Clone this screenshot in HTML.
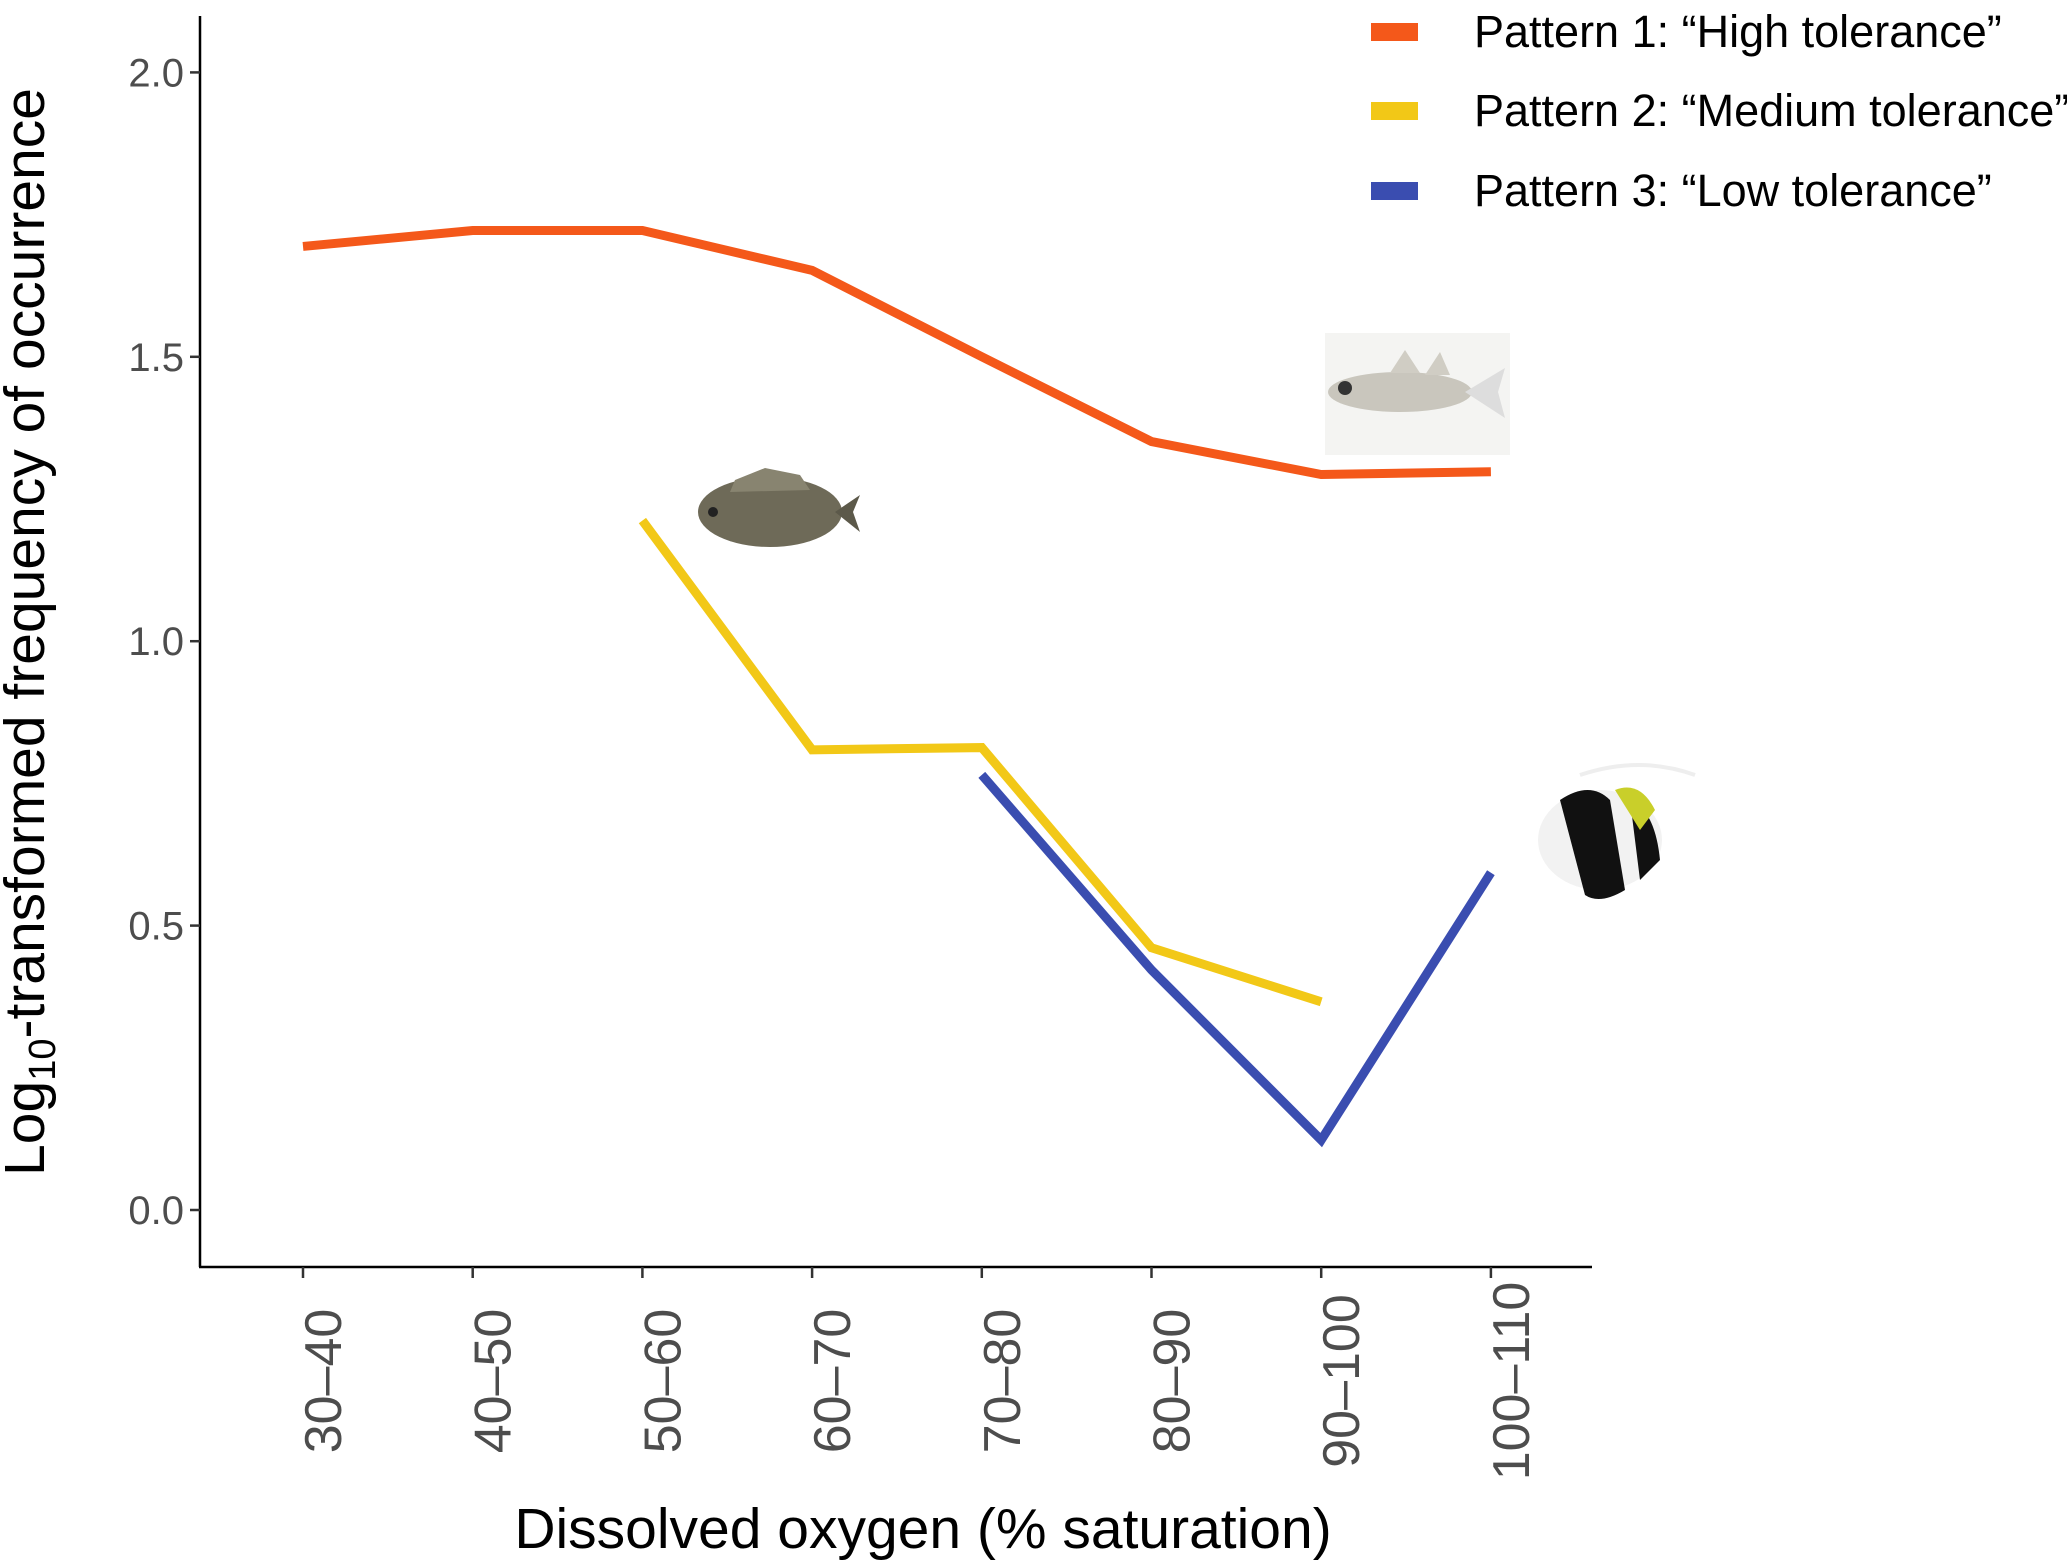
<!DOCTYPE html>
<html><head><meta charset="utf-8"><style>
html,body{margin:0;padding:0;background:#fff;}
svg{display:block;font-family:"Liberation Sans",Arial,sans-serif;}
</style></head><body>
<svg id="chart" width="2067" height="1561" viewBox="0 0 2067 1561">
<g id="axes"></g>
<g id="series"></g>
<g id="fish">
  <g>
    <rect x="1325" y="333" width="185" height="122" fill="#f4f4f2"/>
    <ellipse cx="1400" cy="392" rx="72" ry="20" fill="#c9c6bd"/>
    <polygon points="1465,392 1505,368 1498,392 1505,418" fill="#ddd"/>
    <polygon points="1390,373 1405,350 1420,373" fill="#d0cdc4"/>
    <polygon points="1425,375 1440,352 1450,375" fill="#d0cdc4"/>
    <circle cx="1345" cy="388" r="7" fill="#333"/>
  </g>
  <g>
    <ellipse cx="770" cy="512" rx="72" ry="35" fill="#6e6a58"/>
    <polygon points="835,512 860,495 853,512 860,532" fill="#5c594a"/>
    <polygon points="735,480 765,468 800,475 810,490 730,492" fill="#888470"/>
    <circle cx="713" cy="512" r="5" fill="#222"/>
  </g>
  <g>
    <ellipse cx="1600" cy="840" rx="62" ry="50" fill="#f2f2f2"/>
    <path d="M1560 800 Q1590 780 1610 800 L1625 890 Q1600 905 1585 895 Z" fill="#111"/>
    <path d="M1630 800 Q1655 810 1660 860 L1640 880 Z" fill="#111"/>
    <path d="M1615 790 Q1640 780 1655 810 L1640 830 Z" fill="#c9cf2a"/>
    <path d="M1580 775 Q1640 755 1695 775" stroke="#eee" stroke-width="4" fill="none"/>
  </g>
</g>
<g id="legend"></g>
<text x="923" y="1548" text-anchor="middle" font-size="57" fill="#000">Dissolved oxygen (% saturation)</text>
<text transform="translate(44,632) rotate(-90)" text-anchor="middle" font-size="57" fill="#000">Log<tspan font-size="38" dy="11">10</tspan><tspan dy="-11">-transformed frequency of occurrence</tspan></text>
</svg>
<script>
const categories = ["30–40","40–50","50–60","60–70","70–80","80–90","90–100","100–110"];
const yTicks = [0, 0.5, 1.0, 1.5, 2.0];
const yTickLabels = ["0.0","0.5","1.0","1.5","2.0"];
const pattern1 = [1.694, 1.722, 1.722, 1.652, 1.50, 1.351, 1.293, 1.298];
const pattern2 = [null, null, 1.212, 0.809, 0.813, 0.461, 0.366, null];
const pattern3 = [null, null, null, null, 0.765, 0.422, 0.123, 0.593];
const seriesNames = ["Pattern 1: “High tolerance”","Pattern 2: “Medium tolerance”","Pattern 3: “Low tolerance”"];
const seriesColors = ["#F4581A","#F2C817","#3A4DB0"];

const NS="http://www.w3.org/2000/svg";
const x0=303, xStep=169.7, y0=1210, yPer=568.8;
function xScale(i){return x0+i*xStep;}
function yScale(v){return y0-v*yPer;}
function mk(tag,attrs,parent){const e=document.createElementNS(NS,tag);for(const k in attrs)e.setAttribute(k,attrs[k]);parent.appendChild(e);return e;}

const axes=document.getElementById('axes');
let el=mk('line',{x1:200,y1:16,x2:200,y2:1267,stroke:'#000','stroke-width':2.5},axes);


el=mk('line',{x1:199,y1:1267,x2:1592,y2:1267,stroke:'#000','stroke-width':2.5},axes);


yTicks.forEach((v,i)=>{
  const y=yScale(v);
  const t=mk('line',{x1:190,y1:y,x2:200,y2:y,stroke:'#333','stroke-width':2.5},axes);
  
  
  const l=mk('text',{x:184,y:y+14,'text-anchor':'end','font-size':40,fill:'#4d4d4d'},axes);
  l.textContent=yTickLabels[i];
  
  
});
categories.forEach((c,i)=>{
  const x=xScale(i);
  const t=mk('line',{x1:x,y1:1267,x2:x,y2:1278,stroke:'#333','stroke-width':2.5},axes);
  
  
  const l=mk('text',{transform:`translate(${x+38},1381) rotate(-90)`,'text-anchor':'middle','font-size':52,fill:'#4d4d4d'},axes);
  l.textContent=c;
  
  
});

const series=document.getElementById('series');
[pattern1,pattern2,pattern3].forEach((arr,si)=>{
  const pts=[];
  arr.forEach((v,i)=>{if(v!==null)pts.push(xScale(i)+','+yScale(v));});
  const p=mk('polyline',{points:pts.join(' '),fill:'none',stroke:seriesColors[si],'stroke-width':9},series);
  
  
});

const legend=document.getElementById('legend');
const legY=[32,111,191];
seriesNames.forEach((n,i)=>{
  const r=mk('rect',{x:1371,y:legY[i]-9,width:47,height:18,fill:seriesColors[i]},legend);
  
  
  const t=mk('text',{x:1474,y:legY[i]+15,'font-size':45,fill:'#000'},legend);
  t.textContent=n;
  
  
});
</script>
</body></html>
